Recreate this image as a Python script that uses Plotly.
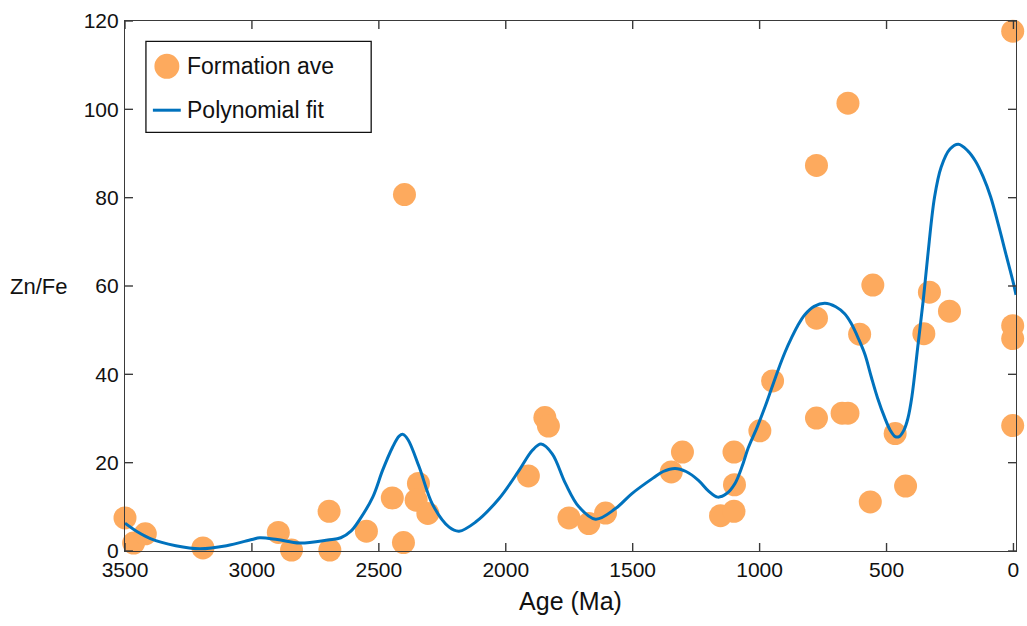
import plotly.graph_objects as go

# Formation averages: age (Ma) and Zn/Fe ratio
form_age = [3500, 3466, 3420, 3193, 2896, 2844, 2696, 2693, 2549, 2447,
            2399, 2403, 2344, 2353, 2307, 1911, 1846, 1832, 1751, 1673,
            1607, 1348, 1304, 1154, 1101, 1099, 1101, 999, 949, 776,
            776, 776, 675, 652, 652, 606, 564, 554, 466, 425,
            353, 331, 252, 3, 3, 3, 3]
form_znfe = [7.5, 1.8, 3.9, 0.7, 4.2, 0.2, 9.0, 0.2, 4.5, 12.0,
             80.7, 1.9, 15.3, 11.5, 8.5, 17.0, 30.2, 28.3, 7.5, 6.2,
             8.6, 17.9, 22.4, 8.0, 9.0, 15.0, 22.4, 27.2, 38.5, 87.3,
             52.7, 30.1, 31.2, 31.2, 101.4, 49.1, 11.1, 60.2, 26.6, 14.7,
             49.2, 58.6, 54.3, 117.7, 51.0, 48.1, 28.4]

# Fitted trend through the formation averages
fit_age = [3500, 3450, 3400, 3300, 3205, 3100, 3000, 2969, 2900, 2812,
           2700, 2650, 2610, 2577, 2524, 2485, 2446, 2420, 2405, 2385, 2341,
           2288, 2223, 2184, 2120, 2026, 1947, 1895, 1861, 1817,
           1765, 1712, 1646, 1568, 1503, 1420, 1380, 1333,
           1290, 1241, 1200, 1165, 1130, 1097, 1070, 1045, 1010, 979,
           953, 927, 900, 874, 850, 822, 785, 743, 700, 665, 640,
           610, 585, 560, 535, 508, 485, 466, 450, 432, 416, 400, 377,
           355, 338, 311, 285, 250, 217, 180, 150, 120, 90,
           60, 30, 0, -10]
fit_znfe = [6.3, 4.3, 2.8, 1.2, 0.5, 1.2, 2.6, 3.0, 2.6, 1.8,
            2.5, 3.0, 4.5, 7.0, 12.2, 18.3, 23.5, 26.0, 26.4, 25.2, 19.0,
            10.5, 5.4, 4.5, 6.5, 11.9, 18.3, 22.8, 24.2, 22.0,
            15.3, 10.0, 7.2, 9.6, 13.0, 16.5, 18.0, 18.7,
            18.0, 16.0, 13.5, 12.2, 13.0, 15.3, 19.0, 23.3, 28.0, 32.6,
            36.8, 41.0, 45.0, 48.3, 51.0, 53.5, 55.4, 56.1, 55.3, 53.7, 51.6,
            48.0, 44.5, 39.4, 34.6, 30.3, 27.3, 25.9, 25.9, 27.3, 30.0, 35.0, 46.2,
            57.0, 66.6, 80.1, 86.9, 91.0, 92.1, 90.6, 88.3, 84.8, 80.2,
            74.0, 67.3, 60.6, 58.0]

x_ticks = [3500, 3000, 2500, 2000, 1500, 1000, 500, 0]
y_ticks = [0, 20, 40, 60, 80, 100, 120]

FONT = "Liberation Sans, Arial, Helvetica, sans-serif"
AXIS_COLOR = "#3a3a3a"
DOT_COLOR = "#FDAA5E"
LINE_COLOR = "#0072BD"
TEXT_COLOR = "#111111"

PLOT_W, PLOT_H = 894, 530
TICK_LEN = 8

fig = go.Figure()
fig.add_trace(go.Scatter(
    x=form_age, y=form_znfe, mode="markers", name="Formation ave",
    marker=dict(size=23, color=DOT_COLOR, line=dict(width=0)),
    cliponaxis=False, showlegend=False,
))
fig.add_trace(go.Scatter(
    x=fit_age, y=fit_znfe, mode="lines", name="Polynomial fit",
    line=dict(color=LINE_COLOR, width=3, shape="spline", smoothing=1.0),
    cliponaxis=False, showlegend=False,
))

axis_common = dict(
    showgrid=False, zeroline=False, showline=True, linecolor=AXIS_COLOR,
    linewidth=1.2, mirror=True, ticks="",
    tickfont=dict(family=FONT, size=21, color=TEXT_COLOR),
)

# Inward tick marks on all four sides of the box
tick_style = dict(color=AXIS_COLOR, width=1.4)
tick_shapes = []
for t in x_ticks:
    for base, tip in ((0, TICK_LEN / PLOT_H), (1, 1 - TICK_LEN / PLOT_H)):
        tick_shapes.append(dict(type="line", xref="x", yref="paper",
                                x0=t, x1=t, y0=base, y1=tip,
                                line=tick_style, layer="above"))
for t in y_ticks:
    for base, tip in ((0, TICK_LEN / PLOT_W), (1, 1 - TICK_LEN / PLOT_W)):
        tick_shapes.append(dict(type="line", xref="paper", yref="y",
                                x0=base, x1=tip, y0=t, y1=t,
                                line=tick_style, layer="above"))

# Legend box drawn in paper coordinates (larger symbols than the built-in legend)
legend_shapes = [
    dict(type="rect", xref="paper", yref="paper", x0=0.0235, x1=0.2763,
         y0=0.7898, y1=0.9617, line=dict(color=TEXT_COLOR, width=1.3),
         fillcolor="white", layer="above"),
    dict(type="circle", xref="paper", yref="paper", x0=0.0330, x1=0.0610,
         y0=0.8909, y1=0.9381, line=dict(width=0), fillcolor=DOT_COLOR,
         layer="above"),
    dict(type="line", xref="paper", yref="paper", x0=0.0313, x1=0.0626,
         y0=0.8317, y1=0.8317, line=dict(color=LINE_COLOR, width=3),
         layer="above"),
]
legend_labels = [
    dict(text="Formation ave", x=0.0671, y=0.9145),
    dict(text="Polynomial fit", x=0.0671, y=0.8317),
]

annotations = [dict(
    text=lab["text"], x=lab["x"], y=lab["y"], xref="paper", yref="paper",
    xanchor="left", yanchor="middle", showarrow=False,
    font=dict(family=FONT, size=23, color=TEXT_COLOR),
) for lab in legend_labels]
annotations.append(dict(
    text="Zn/Fe", x=-0.131, xref="paper", xanchor="left",
    y=60, yref="y", yanchor="middle", showarrow=False,
    font=dict(family=FONT, size=22, color=TEXT_COLOR),
))

fig.update_layout(
    width=1027, height=626,
    margin=dict(l=125, r=8, t=21, b=75),
    paper_bgcolor="white", plot_bgcolor="white",
    showlegend=False,
    xaxis=dict(
        range=[3500, -10], tickvals=x_ticks,
        ticktext=[str(t) for t in x_ticks],
        title=dict(text="Age (Ma)", font=dict(family=FONT, size=25, color=TEXT_COLOR),
                   standoff=12),
        ticklabelstandoff=0,
        **axis_common,
    ),
    yaxis=dict(
        range=[0, 120], tickvals=y_ticks,
        ticktext=[str(t) for t in y_ticks],
        ticklabelstandoff=1,
        **axis_common,
    ),
    shapes=tick_shapes + legend_shapes,
    annotations=annotations,
)

fig.write_html("out.html")
